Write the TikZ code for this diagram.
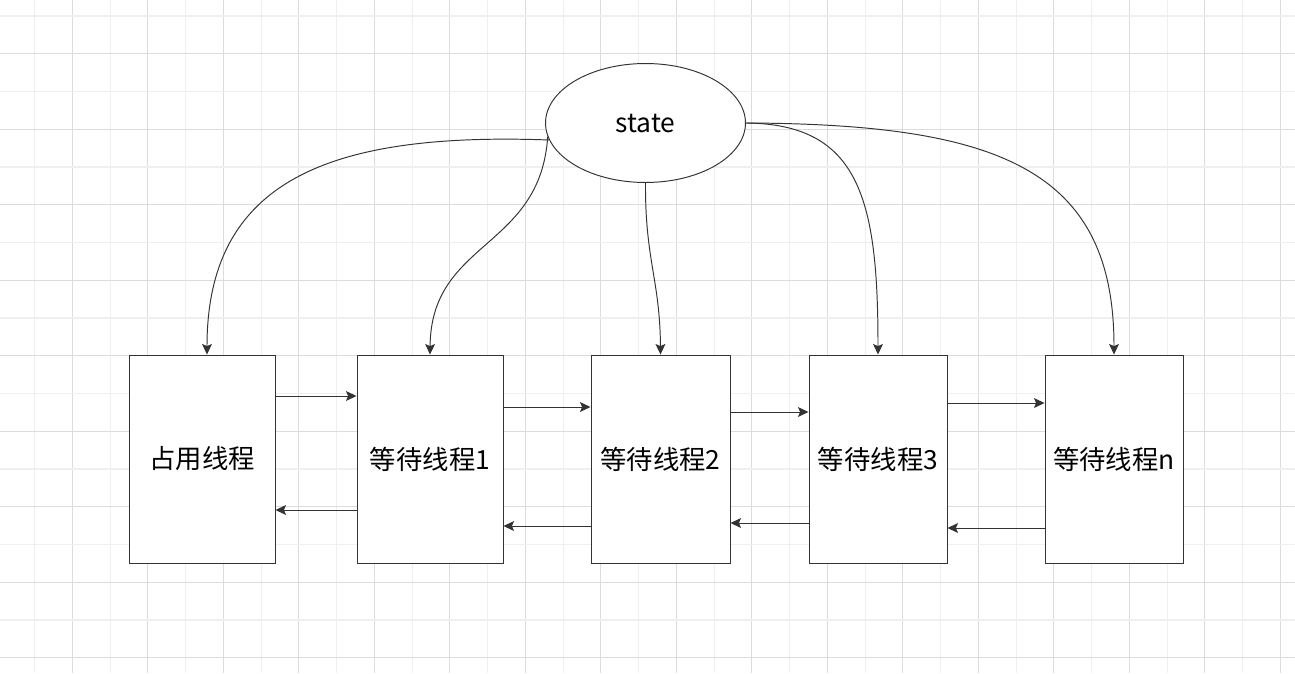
\documentclass[tikz,border=0pt]{standalone}
\usepackage{fontspec}
\setmainfont{Noto Sans CJK SC}
\usetikzlibrary{arrows.meta,shapes.geometric}

\definecolor{linegray}{HTML}{333333}
\definecolor{gridminor}{HTML}{EFEFEF}
\definecolor{gridmajor}{HTML}{DCDCDC}

\tikzset{
  thread/.style={draw=linegray, line width=0.55pt, fill=white, minimum height=4.16cm,
    inner sep=0pt, font=\fontsize{15}{18}\selectfont},
  link/.style={draw=linegray, line width=0.55pt,
    -{Stealth[length=6pt, width=5.6pt, inset=1.2pt]}},
}

\begin{document}
\begin{tikzpicture}[x=0.02cm, y=-0.02cm]
  \fill[white] (0,0) rectangle (1295,673);
  \useasboundingbox (0,0) rectangle (1295,673);
  % 背景网格
  \foreach \i in {0,...,33} {
    \pgfmathsetmacro{\gx}{34.7+37.75*\i}
    \ifodd\i \def\gc{gridmajor}\else \def\gc{gridminor}\fi
    \draw[\gc, line width=0.6pt] (\gx,0) -- (\gx,673);
  }
  \foreach \j in {0,...,17} {
    \pgfmathsetmacro{\gy}{16+37.75*\j}
    \ifodd\j \def\gc{gridmajor}\else \def\gc{gridminor}\fi
    \draw[\gc, line width=0.6pt] (0,\gy) -- (1295,\gy);
  }

  \node[draw=linegray, line width=0.55pt, fill=white, ellipse, minimum width=4cm,
    minimum height=2.38cm, inner sep=0pt, font=\fontsize{15}{18}\selectfont]
    (state) at (645.5,123) {\raisebox{-1.5pt}{state}};

  \node[thread, minimum width=2.92cm] (occ) at (202,459) {\raisebox{-1.5pt}{占用线程}};
  \node[thread, minimum width=2.92cm] (w1)  at (430,459) {\raisebox{-1.5pt}{等待线程1}};
  \node[thread, minimum width=2.78cm] (w2)  at (660.5,459) {\raisebox{-1.5pt}{等待线程2}};
  \node[thread, minimum width=2.76cm] (w3)  at (878,459) {\raisebox{-1.5pt}{等待线程3}};
  \node[thread, minimum width=2.76cm] (wn)  at (1114,459) {\raisebox{-1.5pt}{等待线程n}};

  % state 指向各线程
  \draw[link] (state.190) .. controls (330,132) and (207,180) .. ([xshift=0.1cm]occ.north);
  \draw[link] (state.188) .. controls (540,250) and (431,240) .. (w1.north);
  \draw[link] (state.south) .. controls (645,260) and (660,280) .. (w2.north);
  \draw[link] (state.east) .. controls (860,124) and (878,200) .. (w3.north);
  \draw[link] (state.east) .. controls (1000,124) and (1114,170) .. (wn.north);

  % 线程之间
  \draw[link] (occ.east |- 0,396) -- (w1.west |- 0,396);
  \draw[link] (w1.west |- 0,510) -- (occ.east |- 0,510);
  \draw[link] (w1.east |- 0,407) -- (w2.west |- 0,407);
  \draw[link] (w2.west |- 0,526) -- (w1.east |- 0,526);
  \draw[link] (w2.east |- 0,412) -- (w3.west |- 0,412);
  \draw[link] (w3.west |- 0,523) -- (w2.east |- 0,523);
  \draw[link] (w3.east |- 0,403) -- (wn.west |- 0,403);
  \draw[link] (wn.west |- 0,528) -- (w3.east |- 0,528);
\end{tikzpicture}
\end{document}
